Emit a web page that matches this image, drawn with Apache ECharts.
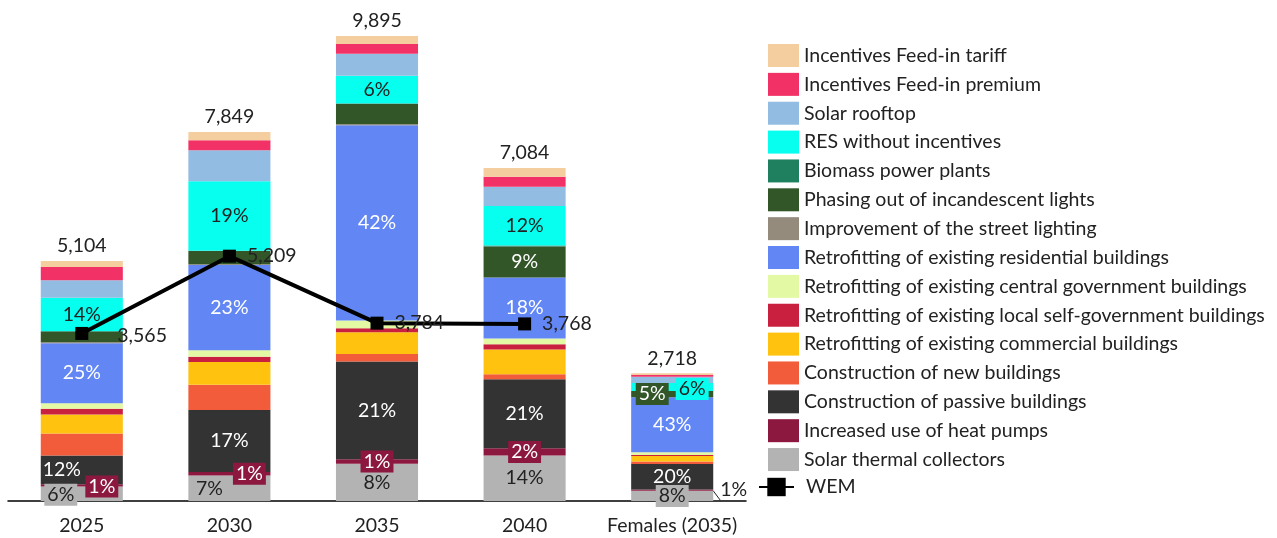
<!DOCTYPE html>
<html>
<head>
<meta charset="utf-8">
<script src="https://cdn.jsdelivr.net/npm/echarts@6/dist/echarts.min.js"></script>
<style>
html,body{margin:0;padding:0;background:#fff;}
#chart{width:1277px;height:538px;}
</style>
</head>
<body>
<div id="chart"></div>
<script>
const categories = ['2025', '2030', '2035', '2040', 'Females (2035)'];

// stacked bottom -> top
const solarThermal   = [306, 540, 790, 970, 217];
const heatPumps      = [51, 75, 99, 150, 27];
const passive        = [612, 1320, 2078, 1470, 544];
const newBuildings   = [468, 540, 163, 106, 50];
const commercial     = [404, 480, 461, 525, 121];
const localGov       = [120, 115, 85, 113, 21];
const centralGov     = [120, 140, 163, 121, 57];
const residential    = [1276, 1810, 4156, 1300, 1169];
const streetLighting = [20, 15, 20, 0, 0];
const phasingOut     = [234, 290, 440, 660, 136];
const biomass        = [0, 0, 0, 20, 0];
const resNoInc       = [715, 1480, 594, 840, 170];
const rooftop        = [369, 659, 468, 411, 130];
const feedPremium    = [284, 210, 206, 213, 40];
const feedTariff     = [125, 175, 172, 185, 36];

const wem = [3565, 5209, 3784, 3768, null];

const FONT = 'Lato';
const FS = 19.5;

const barSeriesDef = [
  ['Solar thermal collectors', solarThermal, '#B3B3B3'],
  ['Increased use of heat pumps', heatPumps, '#8C183F'],
  ['Construction of passive buildings', passive, '#333333'],
  ['Construction of new buildings', newBuildings, '#F25C3B'],
  ['Retrofitting of existing commercial buildings', commercial, '#FFC30F'],
  ['Retrofitting of existing local self-government buildings', localGov, '#C8203E'],
  ['Retrofitting of existing central government buildings', centralGov, '#E3F9A3'],
  ['Retrofitting of existing residential buildings', residential, '#6287F5'],
  ['Improvement of the street lighting', streetLighting, '#948B7D'],
  ['Phasing out of incandescent lights', phasingOut, '#325628'],
  ['Biomass power plants', biomass, '#1F8060'],
  ['RES without incentives', resNoInc, '#06FFEF'],
  ['Solar rooftop', rooftop, '#93BCE3'],
  ['Incentives Feed-in premium', feedPremium, '#F23266'],
  ['Incentives Feed-in tariff', feedTariff, '#F4CE9F']
];

const totals = categories.map((c, i) => barSeriesDef.reduce((s, d) => s + d[1][i], 0));

const W = '#ffffff', K = '#222222';
const labelSpec = {
  'Solar thermal collectors': {
    0: {offset: [-21, 1], bg: '#B3B3B3', color: K},
    1: {offset: [-20, 0], color: K},
    2: {color: K}, 3: {color: K},
    4: {bg: '#B3B3B3', color: K}
  },
  'Increased use of heat pumps': {
    0: {offset: [20, 1], bg: '#8C183F', color: W},
    1: {offset: [20, 0], bg: '#8C183F', color: W},
    2: {bg: '#8C183F', color: W},
    3: {bg: '#8C183F', color: W},
    4: {position: 'right', color: K, distance: 7}
  },
  'Construction of passive buildings': {
    0: {offset: [-20, 0], color: W}, 1: {color: W}, 2: {color: W}, 3: {color: W}, 4: {color: W}
  },
  'Retrofitting of existing residential buildings': {
    0: {color: W}, 1: {color: W}, 2: {color: W}, 3: {color: W}, 4: {color: W}
  },
  'Phasing out of incandescent lights': {
    3: {color: W},
    4: {color: W, bg: '#325628', offset: [-20, 0]}
  },
  'RES without incentives': {
    0: {color: K}, 1: {color: K}, 2: {color: K}, 3: {color: K},
    4: {color: K, bg: '#06FFEF', offset: [20, 2]}
  }
};

function pctFormatter(p) {
  return Math.round(p.value / totals[p.dataIndex] * 100) + '%';
}

const series = barSeriesDef.map(([name, vals, color], si) => {
  const spec = labelSpec[name] || {};
  const data = vals.map((v, i) => {
    const s = spec[i];
    if (!s) return v;
    const lbl = {
      show: true,
      position: s.position || 'inside',
      color: s.color,
      fontSize: FS,
      fontFamily: FONT,
      formatter: pctFormatter
    };
    if (s.offset) lbl.offset = s.offset;
    if (s.distance) lbl.distance = s.distance;
    if (s.bg) { lbl.backgroundColor = s.bg; lbl.padding = [1, 3]; }
    const item = {value: v, label: lbl};
    if (s.position === 'right') {
      item.labelLine = {show: true, lineStyle: {color: '#222', width: 1}};
    }
    return item;
  });
  const ser = {
    name: name,
    type: 'bar',
    stack: 'total',
    barWidth: '55.6%',
    itemStyle: {color: color},
    emphasis: {disabled: true},
    data: data
  };
  if (si === barSeriesDef.length - 1) {
    ser.label = {
      show: true,
      position: 'top',
      distance: 5,
      color: '#222',
      fontSize: FS,
      fontFamily: FONT,
      formatter: p => totals[p.dataIndex].toLocaleString('en-US')
    };
  }
  return ser;
});

series.push({
  name: 'WEM',
  type: 'line',
  data: wem.map((v, i) => {
    if (v === null) return null;
    if (i === 0) return {value: v, label: {offset: [18, 2]}};
    return v;
  }),
  symbol: 'rect',
  symbolSize: 13,
  lineStyle: {color: '#000', width: 4},
  itemStyle: {color: '#000'},
  z: 5,
  label: {
    show: true,
    position: 'right',
    distance: 11,
    color: '#222',
    fontSize: FS,
    fontFamily: FONT,
    formatter: p => p.value.toLocaleString('en-US')
  }
});

const legendNames = barSeriesDef.map(d => d[0]).reverse();

const option = {
  animation: false,
  backgroundColor: '#fff',
  textStyle: {fontFamily: FONT},
  grid: {left: 8, right: 531, top: 31, bottom: 37, containLabel: false},
  xAxis: {
    type: 'category',
    data: categories,
    axisLine: {lineStyle: {color: '#000', width: 1.5}},
    axisTick: {show: false},
    axisLabel: {color: '#222', fontSize: FS, fontFamily: FONT, margin: 15, interval: 0, hideOverlap: false}
  },
  yAxis: {type: 'value', min: 0, max: 10000, show: false, splitLine: {show: false}},
  legend: [
    {
      data: legendNames,
      orient: 'vertical',
      left: 768,
      top: 44,
      padding: 0,
      itemWidth: 31,
      itemHeight: 23,
      itemGap: 5.86,
      icon: 'rect',
      selectedMode: false,
      textStyle: {color: '#222', fontSize: FS, fontFamily: FONT}
    },
    {
      data: ['WEM'],
      orient: 'vertical',
      left: 758,
      top: 477,
      padding: 0,
      itemWidth: 35,
      itemHeight: 23,
      selectedMode: false,
      textStyle: {color: '#222', fontSize: FS, fontFamily: FONT, padding: [0, 0, 0, 7]}
    }
  ],
  series: series
};

const chart = echarts.init(document.getElementById('chart'), null, {renderer: 'canvas'});
chart.setOption(option);
</script>
</body>
</html>
